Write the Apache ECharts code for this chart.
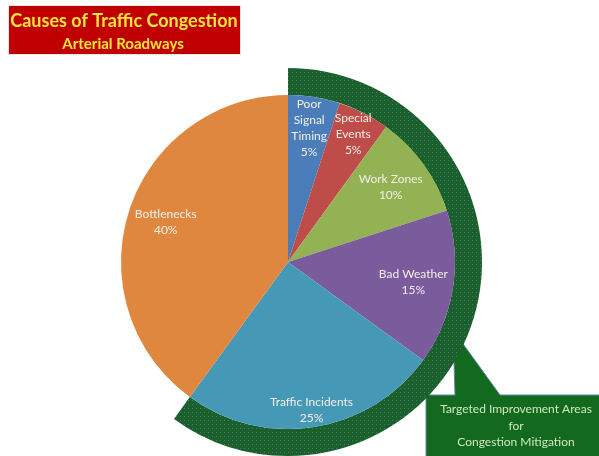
<!DOCTYPE html>
<html>
<head>
<meta charset="utf-8">
<script src="https://cdn.jsdelivr.net/npm/echarts@6/dist/echarts.min.js"></script>
<style>
html,body{margin:0;padding:0;background:#fff;}
#chart{width:599px;height:456px;}
</style>
</head>
<body>
<div id="chart"></div>
<script>
// ---- data ----
const categories = ['Poor Signal Timing', 'Special Events', 'Work Zones', 'Bad Weather', 'Traffic Incidents', 'Bottlenecks'];
const values = [5, 5, 10, 15, 25, 40];
const targetedCount = 5; // first five causes are the targeted improvement areas
const titleText = 'Causes of Traffic Congestion';
const subtitleText = 'Arterial Roadways';
const calloutLines = ['Targeted Improvement Areas', 'for', 'Congestion Mitigation'];

// ---- styles ----
const sliceColors = ['#4a7dba', '#be4c49', '#93b254', '#7a5b9c', '#4699b6', '#e0873f'];
const labelBreaks = {'Poor Signal Timing': 'Poor\nSignal\nTiming', 'Special Events': 'Special\nEvents'};
const labelRadiusFrac = [0.81, 0.86, 0.76, 0.76, 0.9, 0.77];
const FONT = 'Lato, "Open Sans", sans-serif';
const CX = 288, CY = 262, R = 167, RING_OUT = 194;

const chart = echarts.init(document.getElementById('chart'), null, {renderer: 'canvas'});

const pieData = categories.map((c, i) => ({name: c, value: values[i], itemStyle: {color: sliceColors[i]}}));
const targetedSum = values.slice(0, targetedCount).reduce((a, b) => a + b, 0);
const restSum = values.slice(targetedCount).reduce((a, b) => a + b, 0);

const option = {
  animation: false,
  series: [
    {
      type: 'pie',
      center: [CX, CY],
      radius: [R, RING_OUT],
      startAngle: 90,
      clockwise: true,
      silent: true,
      label: {show: false},
      labelLine: {show: false},
      data: [
        {name: 'targeted', value: targetedSum, itemStyle: {
          color: '#1c5f2e',
          decal: {symbol: 'rect', symbolSize: 1, color: 'rgba(140,200,140,0.35)', dashArrayX: [1, 3], dashArrayY: [1, 3], rotation: 0}
        }},
        {name: 'rest', value: restSum, itemStyle: {color: 'rgba(0,0,0,0)'}}
      ]
    },
    {
      type: 'pie',
      center: [CX, CY],
      radius: [0, R],
      startAngle: 90,
      clockwise: true,
      silent: true,
      itemStyle: {borderWidth: 0},
      label: {
        show: true,
        position: 'inside',
        color: '#f3eee8',
        fontFamily: FONT,
        fontSize: 12,
        lineHeight: 16,
        formatter: p => (labelBreaks[p.name] || p.name) + '\n' + p.value + '%'
      },
      labelLine: {show: false},
      labelLayout: function (params) {
        const r = params.labelRect;
        const lx = r.x + r.width / 2, ly = r.y + r.height / 2;
        const vx = lx - CX, vy = ly - CY;
        const d = Math.sqrt(vx * vx + vy * vy) || 1;
        const target = labelRadiusFrac[params.dataIndex] * R;
        return {dx: vx / d * (target - d), dy: vy / d * (target - d)};
      },
      data: pieData
    }
  ],
  graphic: [
    {type: 'rect', left: 8, top: 5, shape: {width: 232, height: 49}, style: {fill: '#c00000', stroke: '#e6e6e6', lineWidth: 1}},
    {type: 'text', x: 124, y: 21, style: {text: titleText, fill: '#f7e43c', font: 'bold 18px ' + FONT, textAlign: 'center', textVerticalAlign: 'middle'}},
    {type: 'text', x: 123, y: 44, style: {text: subtitleText, fill: '#f7e43c', font: 'bold 15px ' + FONT, textAlign: 'center', textVerticalAlign: 'middle'}},
    {type: 'polygon', shape: {points: [[426, 395], [455, 395], [453, 330], [500, 395], [600, 395], [600, 457], [426, 457]]},
      style: {fill: '#136a1e', stroke: '#5f86a8', lineWidth: 1}},
    {type: 'text', x: 516, y: 409, style: {text: calloutLines[0], fill: '#cfe8c2', font: '12px ' + FONT, textAlign: 'center', textVerticalAlign: 'middle'}},
    {type: 'text', x: 516, y: 426, style: {text: calloutLines[1], fill: '#cfe8c2', font: '12px ' + FONT, textAlign: 'center', textVerticalAlign: 'middle'}},
    {type: 'text', x: 516, y: 442, style: {text: calloutLines[2], fill: '#cfe8c2', font: '12px ' + FONT, textAlign: 'center', textVerticalAlign: 'middle'}}
  ]
};
chart.setOption(option);
</script>
</body>
</html>
